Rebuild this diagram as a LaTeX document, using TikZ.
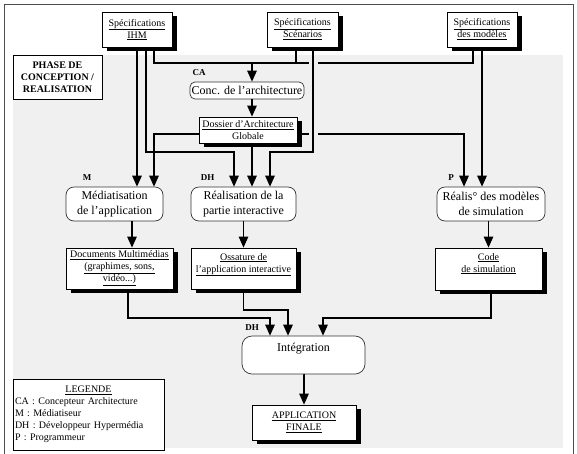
\documentclass[tikz,border=0pt]{standalone}
\usepackage{fontspec}
\setmainfont{Liberation Serif}
\usetikzlibrary{arrows.meta,shadows}
\definecolor{bg}{HTML}{F0F0F0}

\begin{document}
\begin{tikzpicture}[x=1pt,y=-1pt,
    doc/.style={draw,fill=white,line width=0.8pt,align=center,inner sep=0pt,
      font=\fontsize{10}{12}\selectfont,
      general shadow={fill=black,shadow xshift=5pt,shadow yshift=-4pt}},
    proc/.style={draw=black!80,fill=white,rounded corners=8pt,line width=0.7pt,
      align=center,inner sep=0pt,font=\fontsize{12}{14.5}\selectfont},
    role/.style={font=\bfseries\fontsize{9}{10}\selectfont},
    link/.style={line width=1.2pt,-{Triangle[width=9.5pt,length=11pt]}},
    wire/.style={line width=1.2pt},
    gap/.style={draw=bg,line width=9pt}]
    \useasboundingbox (0,0) rectangle (577,453);
    \fill[bg] (13,55) rectangle (563,448);
    \draw[black!70,line width=0.8pt] (4,4) rectangle (573,460);

    \node[doc,minimum width=70pt,minimum height=35pt] (specihm) at (137,29.5) {\underline{Spécifications}\\\underline{IHM}};
    \node[doc,minimum width=71pt,minimum height=35pt] (specscen) at (302.5,29.5) {\underline{Spécifications}\\\underline{Scénarios}};
    \node[doc,minimum width=70pt,minimum height=35pt] (specmod) at (482,29.5) {\underline{Spécifications}\\\underline{des modèles}};
    \node[draw,fill=white,line width=0.8pt,align=center,inner sep=0pt,minimum width=89pt,minimum height=44pt,
      font=\bfseries\fontsize{10}{12}\selectfont] (phase) at (57.5,77) {PHASE DE\\CONCEPTION /\\REALISATION};
    \node[proc,rounded corners=5pt,minimum width=114pt,minimum height=17pt] (conc) at (247,90.5) {Conc. de l'architecture};
    \node[doc,minimum width=98pt,minimum height=26pt] (dossier) at (248,130) {\underline{Dossier d'Architecture}\\Globale};
    \node[proc,minimum width=97pt,minimum height=34pt] (media) at (114.5,204) {Médiatisation\\de l'application};
    \node[proc,minimum width=105pt,minimum height=34pt] (realint) at (243.5,204) {Réalisation de la\\partie interactive};
    \node[proc,minimum width=108pt,minimum height=34pt] (realmod) at (491,204) {Réalis° des modèles\\de simulation};
    \node[doc,minimum width=107pt,minimum height=41pt] (docs) at (119.5,268.5) {\underline{Documents Multimédias}\\\underline{(graphimes, sons,}\\\underline{vidéo...)}};
    \node[doc,minimum width=105pt,text height=24pt,text depth=17pt] (ossature) at (243.5,268.5) {\underline{Ossature de}\\\underline{l'application interactive}};
    \node[doc,minimum width=107pt,text height=24pt,text depth=18pt] (code) at (488.5,269) {\underline{Code}\\\underline{de simulation}};
    \node[proc,rounded corners=10pt,minimum width=123pt,text height=15pt,text depth=23pt] (integ) at (303.5,355) {Intégration};
    \node[doc,minimum width=104pt,minimum height=35pt] (appfin) at (304,422.5) {\underline{APPLICATION}\\\underline{FINALE}};
    \node[draw,fill=white,line width=0.8pt,text width=147pt,minimum height=71pt,inner xsep=2pt,inner ysep=0pt,
      align=left,font=\fontsize{10}{12}\selectfont] (legend) at (88.5,414.5)
      {\hfill\underline{LEGENDE}\hfill\null\\CA : Concepteur Architecture\\M : Médiatiseur\\DH : Développeur Hypermédia\\P : Programmeur};

    \node[role] (ca) at (199,73) {CA};
    \node[role] (m) at (87,178) {M};
    \node[role] (dhreal) at (207.5,178) {DH};
    \node[role] (p) at (451,178) {P};
    \node[role] (dhinteg) at (252,328) {DH};

    \coordinate (j1) at (252,63);
    \coordinate (c2) at (234,152);
    \coordinate (c3) at (313,152);
    \coordinate (c4) at (270,152);
    \coordinate (d1) at (270,318);
    \coordinate (d2) at (288,310);
    \coordinate (d3) at (323,318);

    \draw[link] (specihm.south) -- (specihm.south |- media.north);
    \draw[link] ([xshift=9pt]specihm.south) |- (c2) -- (c2 |- realint.north);
    \draw[link] ([xshift=17pt]specihm.south) |- (j1) -- (j1 |- conc.north);
    \draw[wire] ([xshift=-6.5pt]specscen.south) -- ([xshift=-6.5pt]specscen.south |- j1);
    \draw[wire] ([xshift=-9pt]specmod.south) |- (j1);
    \draw[link] ([xshift=5pt]conc.south) -- ([xshift=5pt]conc.south |- dossier.north);
    \draw[link] ([yshift=-4pt]dossier.west) -| ([xshift=39.5pt]media.north);
    \draw[link] ([xshift=4pt]dossier.south) -- ([xshift=4pt]dossier.south |- realint.north);
    \draw[link] ([yshift=-4pt]dossier.east) -| ([xshift=-27pt]realmod.north);
    \draw[link] (specmod.south) -- (specmod.south |- realmod.north);
    \path[gap] ([xshift=10.5pt,yshift=-9pt]specscen.south) -- (c3);
    \draw[link] ([xshift=10.5pt]specscen.south) -- (c3) -- (c4) -- (c4 |- realint.north);
    \draw[link] ([xshift=17.5pt]media.south) -- ([xshift=17.5pt]media.south |- docs.north);
    \draw[link] (realint.south) -- (realint.south |- ossature.north);
    \draw[link] (code.north |- realmod.south) -- (code.north);
    \draw[link] ([xshift=8.5pt]docs.south) |- (d1) -- (d1 |- integ.north);
    \draw[link] (ossature.south) |- (d2) -- (d2 |- integ.north);
    \draw[link] ([xshift=2.5pt]code.south) |- (d3) -- (d3 |- integ.north);
    \draw[link] (integ.south) -- (integ.south -| appfin.north) -- (appfin.north);
\end{tikzpicture}
\end{document}
